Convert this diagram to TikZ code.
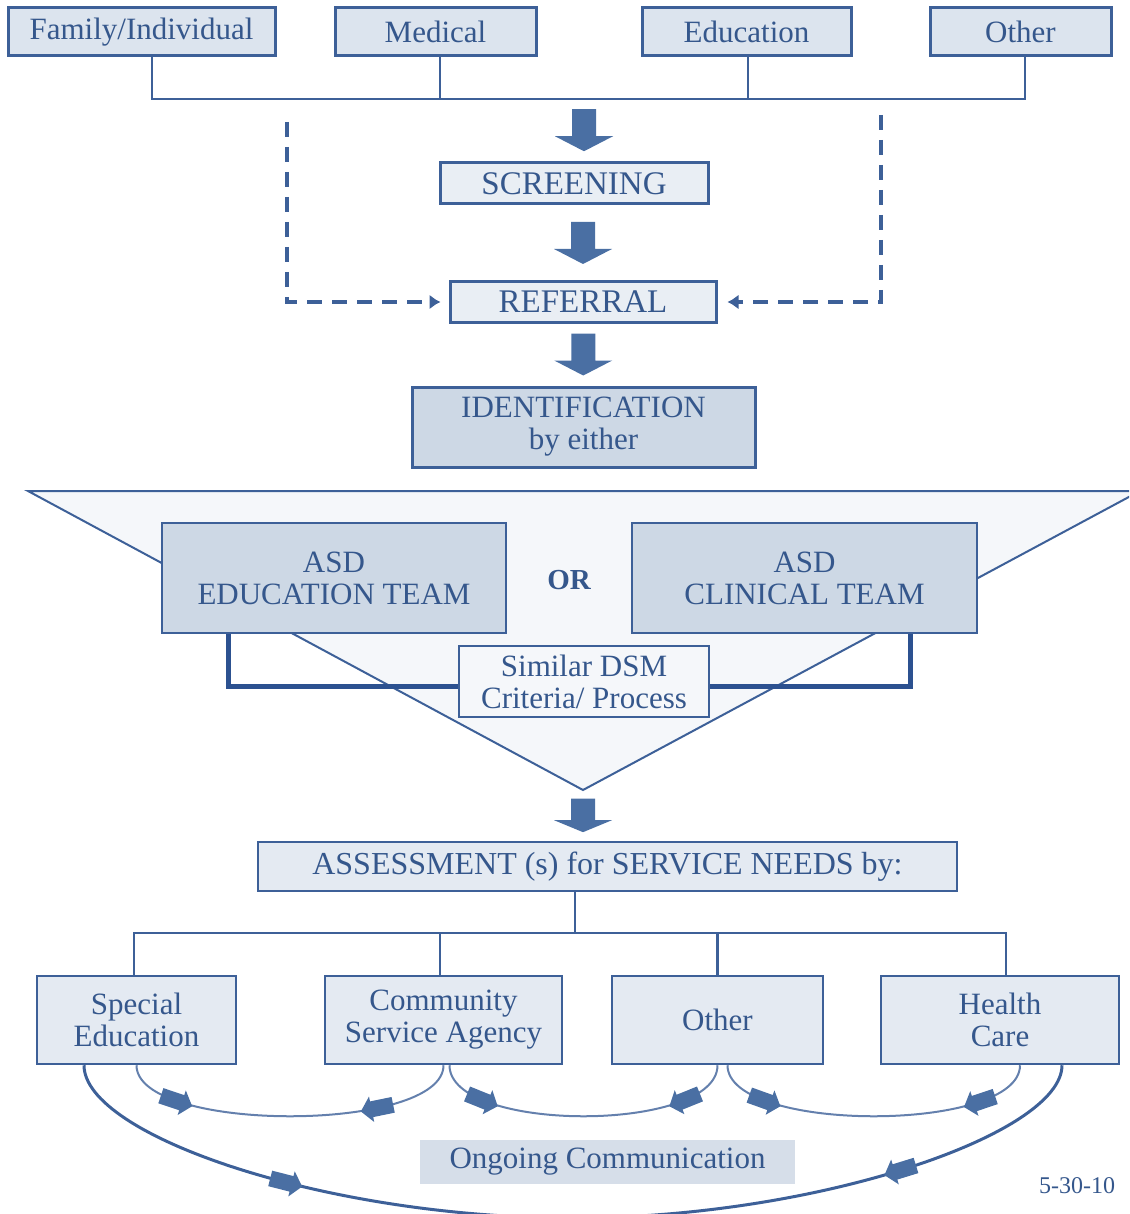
\documentclass[tikz,border=0pt]{standalone}
\usepackage{fontspec}
\setmainfont{Liberation Serif}
\usetikzlibrary{arrows.meta,decorations.markings}
\definecolor{asdblue}{HTML}{3D6098}
\definecolor{asddark}{HTML}{2C5190}
\definecolor{asdtext}{HTML}{35578C}
\definecolor{asdarrow}{HTML}{4A6FA3}
\definecolor{boxfill}{HTML}{DCE4EE}
\definecolor{palefill}{HTML}{E9EEF4}
\definecolor{teamfill}{HTML}{CDD8E5}
\definecolor{trifill}{HTML}{F5F7FA}
\definecolor{needfill}{HTML}{E4EAF2}
\definecolor{commfill}{HTML}{D6DEE9}
\newcommand\talkarrow[1][]{\fill[asdarrow,#1] (-18,-8) -- (4,-8) -- (4,-13) -- (15,0) -- (4,13) -- (4,8) -- (-18,8) -- cycle;}
\tikzset{
  >=latex,
  box/.style = {draw=asdblue,line width=2.5pt,fill=boxfill,text=asdtext,
    inner sep=0pt,align=center,font=\fontsize{31}{32}\selectfont},
  tree/.style = {draw=asdblue,line width=2.5pt},
  bracket/.style = {draw=asddark,line width=5pt},
  dashline/.style = {draw=asdblue,line width=3.5pt,dash pattern=on 15pt off 10pt,
    -{Latex[length=11pt,width=15pt]}},
  blockarrow/.pic = {\fill[asdarrow] (-12,-21) -- (12,-21) -- (12,6) -- (29,6)
    -- (0,21) -- (-29,6) -- (-12,6) -- cycle;},
  talk/.style 2 args = {draw=asdblue!80,line width=2pt,postaction=decorate,
    decoration={markings,mark=at position #1 with {\talkarrow},
      mark=at position #2 with {\talkarrow[xscale=-1]}}}
}

\begin{document}
\begin{tikzpicture}[x=1pt,y=-1pt]
  \useasboundingbox (0,0) rectangle (1129,1214);
  \clip (0,0) rectangle (1129,1214);

  % funnel
  \filldraw[fill=trifill,draw=asdblue,line width=2pt]
    (28,491) -- (1140,491) -- (583,790) coordinate (apex) -- cycle;

  % who refers
  \node[box,line width=3pt,minimum width=267,minimum height=48] (fam) at (141.5,32) {Family/Individual};
  \node[box,line width=3pt,minimum width=201,minimum height=48] (med) at (435.5,32) {Medical};
  \node[box,line width=3pt,minimum width=209,minimum height=48] (edu) at (746.5,32) {Education};
  \node[box,line width=3pt,minimum width=181,minimum height=48] (oth) at (1020.5,32) {Other};
  \coordinate (bus) at (584,99);
  \draw[tree] ([xshift=10.5pt]fam.south) |- (bus) -| ([xshift=4.5pt]oth.south);
  \draw[tree] ([xshift=4.5pt]med.south) -- ++(0,43);
  \draw[tree] ([xshift=1.5pt]edu.south) -- ++(0,43);

  \node[box,line width=3pt,fill=palefill,minimum width=268,minimum height=41,
    font=\fontsize{33}{34}\selectfont] (screen) at (574,183.5) {SCREENING};
  \node[box,line width=3pt,fill=palefill,minimum width=266,minimum height=40,
    font=\fontsize{33}{34}\selectfont] (refer) at (583,302) {REFERRAL};
  \node[box,line width=3pt,fill=teamfill,minimum width=343,minimum height=80] (ident) at (583.5,427) {IDENTIFICATION\\by either};

  \path (bus) -- (bus |- screen.north) pic[pos=.5] {blockarrow};
  \path (screen.south -| refer) -- (refer.north) pic[pos=.5] {blockarrow};
  \path (refer.south) -- (ident.north) pic[pos=.5] {blockarrow};

  \coordinate (dl) at (287,122);
  \coordinate (dr) at (881,115);
  \draw[dashline,shorten >=8pt] (dl) |- (refer.west);
  \draw[dashline,shorten >=10pt] (dr) |- (refer.east);

  % teams
  \node[box,line width=2pt,fill=teamfill,minimum width=344,minimum height=110] (eteam) at (334,578) {ASD\\EDUCATION TEAM};
  \node[box,line width=2pt,fill=teamfill,minimum width=345,minimum height=110] (cteam) at (804.5,578) {ASD\\CLINICAL TEAM};
  \node[text=asdtext,font=\fontsize{29}{30}\selectfont\bfseries] (or) at (569,580) {OR};
  \node[box,line width=2pt,fill=trifill,minimum width=250,minimum height=71] (dsm) at (584,681.5) {Similar DSM\\Criteria/ Process};
  \draw[bracket] ([xshift=-106pt]eteam.south) |- ([yshift=-4.5pt]dsm.west);
  \draw[bracket] ([xshift=105.5pt]cteam.south) |- ([yshift=-4.5pt]dsm.east);

  \node[box,fill=needfill,minimum width=699,minimum height=49,
    font=\fontsize{32}{33}\selectfont] (assess) at (607.5,866.5) {ASSESSMENT (s) for SERVICE NEEDS by:};
  \path (apex) -- (apex |- assess.north) pic[pos=.5,yscale=.8] {blockarrow};

  % who serves
  \node[box,fill=needfill,minimum width=199,minimum height=88] (sped) at (136.5,1020) {Special\\Education};
  \node[box,fill=needfill,minimum width=237,minimum height=88] (comm) at (443.5,1020) {Community\\Service Agency};
  \node[box,fill=needfill,minimum width=211,minimum height=88] (oth2) at (717.5,1020) {Other};
  \node[box,fill=needfill,minimum width=238,minimum height=88] (hc) at (1000,1020) {Health\\Care};
  \coordinate (hub) at (575,933);
  \draw[tree] (assess.south -| hub) -- (hub);
  \draw[tree] ([xshift=-2.5pt]sped.north) |- (hub) -| ([xshift=6pt]hc.north);
  \draw[tree] ([xshift=-3.5pt]comm.north) -- ++(0,-43);
  \draw[tree] (oth2.north) -- ++(0,-43);

  \draw[talk={.17}{.75}] (sped.south) .. controls +(0,68) and +(0,68) .. (comm.south);
  \draw[talk={.17}{.83}] ([xshift=6pt]comm.south) .. controls +(0,68) and +(0,68) .. (oth2.south);
  \draw[talk={.17}{.82}] ([xshift=10pt]oth2.south) .. controls +(0,68) and +(0,68) .. ([xshift=20pt]hc.south);
  \draw[talk={.23}{.81},draw=asdblue,line width=3pt] ([xshift=-52.5pt]sped.south)
    .. controls +(0,70) and (325,1218) .. (573,1218)
    .. controls (818,1218) and ([yshift=-70pt]1062,1064) .. ([xshift=62pt]hc.south);

  \node[fill=commfill,text=asdtext,minimum width=375,minimum height=44,
    font=\fontsize{31}{32}\selectfont] (ongoing) at (607.5,1162) {Ongoing Communication};
  \node[text=asdtext,font=\fontsize{24}{26}\selectfont] (date) at (1077,1186) {5-30-10};
\end{tikzpicture}
\end{document}
